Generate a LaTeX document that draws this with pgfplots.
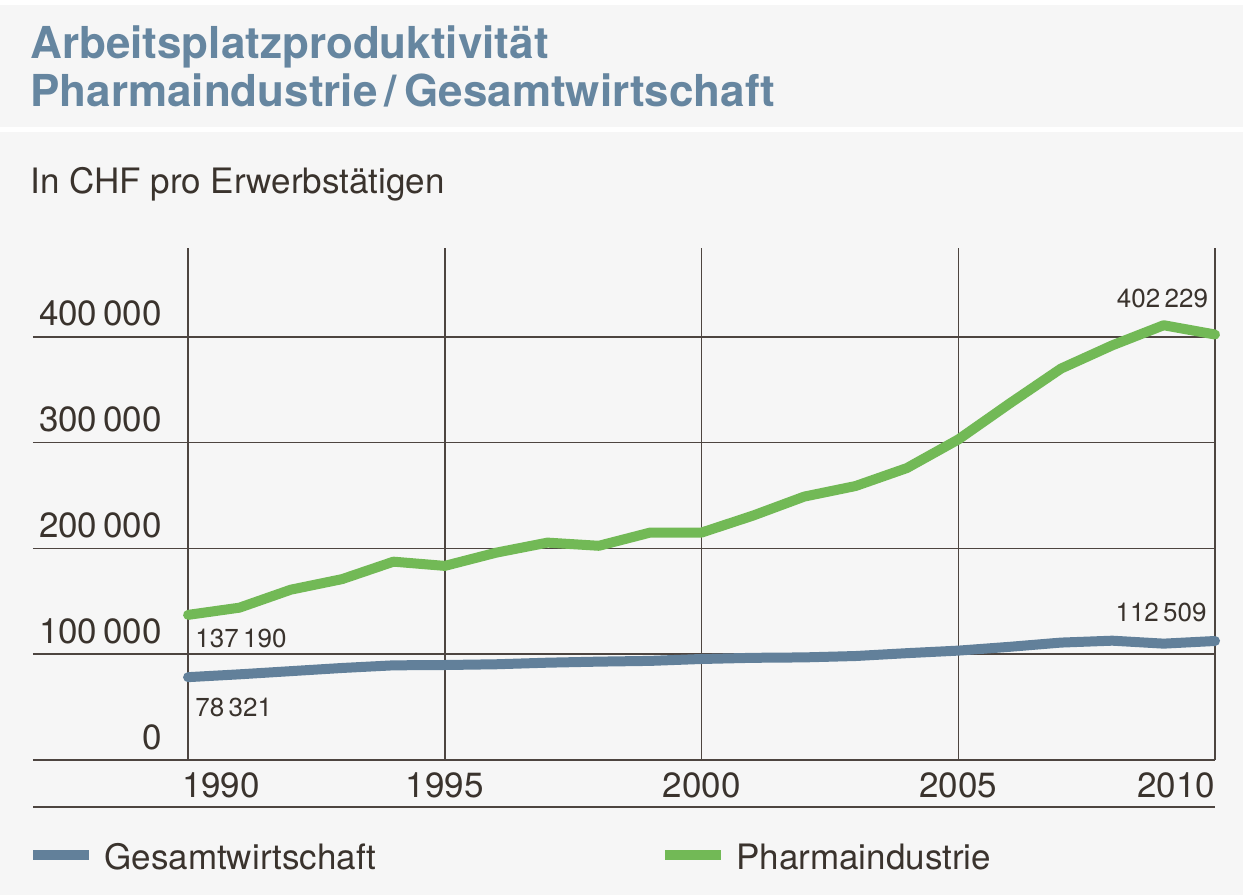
\documentclass[border=0pt]{standalone}
\usepackage{fontspec}
\setmainfont{TeX Gyre Heros}
\usepackage{pgfplots}
\pgfplotsset{compat=1.18}

\definecolor{bg}{HTML}{F6F6F6}
\definecolor{titleblue}{HTML}{6686A0}
\definecolor{textc}{HTML}{3A332D}
\definecolor{gridc}{HTML}{4D4540}
\definecolor{gesamt}{HTML}{62809A}
\definecolor{pharma}{HTML}{72B956}

\begin{document}
\begin{tikzpicture}
% background and the two white bands
\fill[bg] (0,0) rectangle (621.5pt,-447.5pt);
\fill[white] (0,0) rectangle (621.5pt,-2.5pt);
\fill[white] (0,-63.5pt) rectangle (621.5pt,-66pt);

\node[anchor=base west,inner sep=0pt,text=titleblue,font=\fontsize{22}{24}\selectfont\bfseries]
  at (15pt,-29pt) {Arbeitsplatzproduktivität};
\node[anchor=base west,inner sep=0pt,text=titleblue,font=\fontsize{22}{24}\selectfont\bfseries]
  at (15pt,-53pt) {Pharmaindustrie\,/\,Gesamtwirtschaft};
\node[anchor=base west,inner sep=0pt,text=textc,font=\fontsize{17.5}{20}\selectfont]
  at (15pt,-96.5pt) {In CHF pro Erwerbstätigen};

\begin{axis}[
    at={(16.5pt,-380pt)},anchor=south west,
    width=591pt,height=256pt,scale only axis,
    xmin=1986.98,xmax=2010,ymin=0,ymax=484000,
    axis lines*=left,axis line style={draw=none},
    major tick length=0pt,
    clip=false,
    scaled y ticks=false,
    xtick={1990,1995,2000,2005,2010},
    xticklabels={\makebox[0pt][l]{\hspace{-3pt}1990},1995,2000,2005,\makebox[0pt][r]{2010}},
    ytick={0,100000,200000,300000,400000},
    grid=major,
    major grid style={gridc,line width=0.75pt},
    tick label style={font=\fontsize{17.5}{20}\selectfont,text=textc,
        /pgf/number format/assume math mode=true},
    yticklabel style={/pgf/number format/fixed,/pgf/number format/1000 sep={\,},
        anchor=south east,inner sep=0pt,xshift=64.5pt,yshift=5pt},
    xticklabel style={anchor=north,inner sep=0pt,yshift=-6pt},
    legend columns=2,
    legend style={at={(-0.0042,-0.191)},anchor=west,draw=none,fill=none,
        inner sep=0pt,nodes={inner sep=0pt,text=textc},
        font=\fontsize{17.5}{20}\selectfont,
        /tikz/every odd column/.append style={column sep=5pt},
        /tikz/every even column/.append style={column sep=0pt}},
    legend image code/.code={\draw[#1,line width=5pt,line cap=butt] (0pt,1.2pt) -- (28pt,1.2pt);},
]
\addplot[gesamt,line width=5pt,line cap=round,line join=round] coordinates {
    (1990,78321) (1991,81000) (1992,84000) (1993,87000) (1994,89500)
    (1995,89800) (1996,90500) (1997,92000) (1998,93000) (1999,93700)
    (2000,95500) (2001,96600) (2002,97000) (2003,98300) (2004,101000)
    (2005,103400) (2006,107000) (2007,111000) (2008,112800) (2009,110000)
    (2010,112509)
};
\addlegendentry{\makebox[278pt][l]{Gesamtwirtschaft}}
\addplot[pharma,line width=5pt,line cap=round,line join=round] coordinates {
    (1990,137190) (1991,144000) (1992,161000) (1993,171000) (1994,187500)
    (1995,183500) (1996,196000) (1997,205500) (1998,202500) (1999,215000)
    (2000,215000) (2001,231000) (2002,249000) (2003,259000) (2004,276000)
    (2005,303000) (2006,337000) (2007,370000) (2008,392000) (2009,411000)
    (2010,402229)
};
\addlegendentry{Pharmaindustrie}

\node[anchor=north west,inner sep=0pt,text=textc,font=\fontsize{13}{15}\selectfont,
    xshift=3.5pt,yshift=-7pt] at (axis cs:1990,137190) {137\,190};
\node[anchor=north west,inner sep=0pt,text=textc,font=\fontsize{13}{15}\selectfont,
    xshift=3.5pt,yshift=-10.5pt] at (axis cs:1990,78321) {78\,321};
\node[anchor=south east,inner sep=0pt,text=textc,font=\fontsize{13}{15}\selectfont,
    xshift=-3.3pt,yshift=13pt] at (axis cs:2010,402229) {402\,229};
\node[anchor=south east,inner sep=0pt,text=textc,font=\fontsize{13}{15}\selectfont,
    xshift=-4pt,yshift=9.5pt] at (axis cs:2010,112509) {112\,509};
\end{axis}

% rule under the year labels
\draw[gridc,line width=0.75pt] (16.5pt,-403.5pt) -- (607.5pt,-403.5pt);

\pgfresetboundingbox
\useasboundingbox (0,0) rectangle (621.5pt,-447.5pt);
\end{tikzpicture}
\end{document}
